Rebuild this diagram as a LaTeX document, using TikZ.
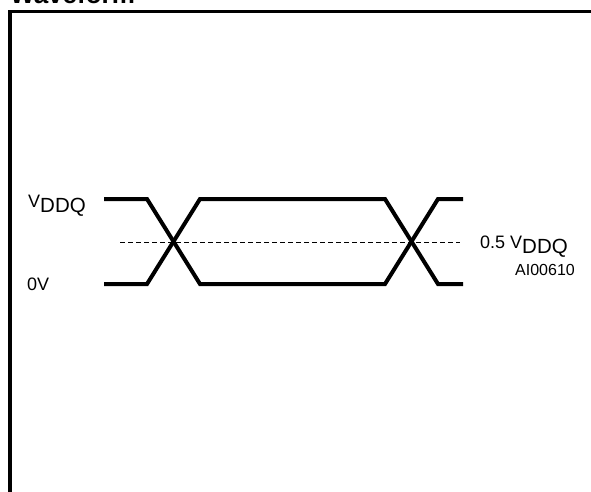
\documentclass[tikz,border=0pt]{standalone}
\usepackage{fontspec}
\setmainfont{Liberation Sans}
\newcommand{\subdq}{\raisebox{-0.55ex}{\fontsize{20.5}{23}\selectfont DDQ}}
\begin{document}
\begin{tikzpicture}[x=1pt,y=-1pt,
  wave/.style={line width=4pt,line join=miter},
  frame/.style={line width=3.2pt},
  mid/.style={line width=1pt,dash pattern=on 4.5pt off 3.5pt},
  lbl/.style={inner sep=0pt,font=\fontsize{18}{21}\selectfont},
  code/.style={inner sep=0pt,font=\fontsize{16}{18}\selectfont}]
\useasboundingbox (0,0) rectangle (591,492);
\clip (0,0) rectangle (591,492);
\node[anchor=base west,inner sep=0pt,font=\bfseries\fontsize{26}{30}\selectfont] (title) at (10,3.5) {Waveform};
\draw[frame] (10,520) -- (10,11.3) -- (620,11.3);
% waveform vertices
\coordinate (a1) at (104,199);
\coordinate (a2) at (147,199);
\coordinate (a3) at (200,284);
\coordinate (a4) at (385,284);
\coordinate (a5) at (438,199);
\coordinate (a6) at (463,199);
\coordinate (b1) at (104,284);
\coordinate (b2) at (147,284);
\coordinate (b3) at (200,199);
\coordinate (b4) at (385,199);
\coordinate (b5) at (438,284);
\coordinate (b6) at (463,284);
\draw[wave] (a1) -- (a2) -- (a3) -- (a4) -- (a5) -- (a6);
\draw[wave] (b1) -- (b2) -- (b3) -- (b4) -- (b5) -- (b6);
\coordinate (m1) at (120,242);
\coordinate (m2) at (460,242);
\draw[mid] (m1) -- (m2);
% labels
\node[lbl,anchor=base west] (vddq) at (28,207) {V\subdq};
\node[lbl,anchor=base west] (zero) at (27,290) {0V};
\node[lbl,anchor=base west] (half) at (480,248) {0.5 V\subdq};
\node[code,anchor=base west] (ai) at (515,275) {AI00610};
\end{tikzpicture}
\end{document}
